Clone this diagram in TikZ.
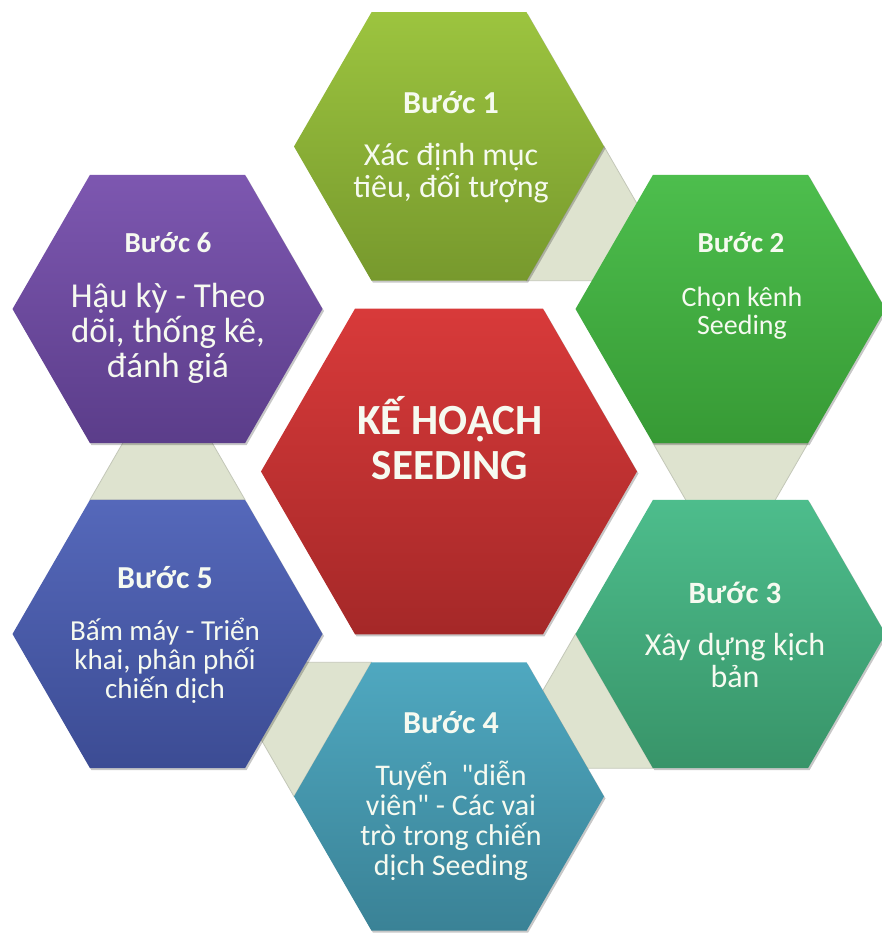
\documentclass[tikz,border=0pt]{standalone}
\usepackage{fontspec}
\setmainfont{Carlito}[Ligatures=TeXOff]
\usetikzlibrary{shapes.geometric,calc,shadows}
\definecolor{c1t}{HTML}{9CC43F}\definecolor{c1b}{HTML}{77992D}
\definecolor{c2t}{HTML}{4DBE4D}\definecolor{c2b}{HTML}{379A35}
\definecolor{c3t}{HTML}{4DBD8C}\definecolor{c3b}{HTML}{389469}
\definecolor{c4t}{HTML}{4FA8C0}\definecolor{c4b}{HTML}{3A8296}
\definecolor{c5t}{HTML}{5568BA}\definecolor{c5b}{HTML}{3C4C94}
\definecolor{c6t}{HTML}{7D57B0}\definecolor{c6b}{HTML}{5B3D8A}
\definecolor{c0t}{HTML}{D83A3A}\definecolor{c0b}{HTML}{A52828}
\definecolor{connfill}{HTML}{DEE3CF}
\definecolor{connline}{HTML}{C3C7B8}
\definecolor{txt}{HTML}{F6FAF0}
\begin{document}
\begin{tikzpicture}[x=1pt,y=1pt,
  hexa/.style={regular polygon, regular polygon sides=6, minimum size=310pt,
    inner sep=0pt, outer sep=0pt, draw=none,
    drop shadow={shadow xshift=1.5pt, shadow yshift=-2pt, opacity=0.22, fill=black}},
  bighexa/.style={hexa, minimum size=376pt},
  conn/.style={fill=connfill, draw=connline, line width=0.8pt, line join=miter},
  head/.style={text=txt, inner sep=0pt, font=\fontsize{#1}{#1}\selectfont\bfseries},
  body/.style={text=txt, inner sep=0pt, align=center, font=\fontsize{#1}{#1}\selectfont},
]
\useasboundingbox (0,0) rectangle (881,933);
\fill[white] (0,0) rectangle (881,933);

% hexagon centres
\coordinate (p0) at (449,461.5);
\coordinate (p1) at (449,786.5);
\coordinate (p2) at (730.5,624);
\coordinate (p3) at (730.5,299);
\coordinate (p4) at (449,136.5);
\coordinate (p5) at (167.5,299);
\coordinate (p6) at (167.5,624);

% connectors (behind)
\fill[conn] ($(p1)+(0:155)$) -- ($(p1)+(-60:155)$) -- ($(p1)+(0:155)+(-60:155)$) -- cycle;
\fill[conn] ($(p2)+(-60:155)$) -- ($(p2)+(-120:155)$) -- ($(p2)+(-60:155)+(-120:155)$) -- cycle;
\fill[conn] ($(p3)+(-120:155)$) -- ($(p3)+(180:155)$) -- ($(p3)+(-120:155)+(180:155)$) -- cycle;
\fill[conn] ($(p4)+(120:155)$) -- ($(p4)+(180:155)$) -- ($(p4)+(120:155)+(180:155)$) -- cycle;
\fill[conn] ($(p5)+(60:155)$) -- ($(p5)+(120:155)$) -- ($(p5)+(60:155)+(120:155)$) -- cycle;

\node[hexa, top color=c1t, bottom color=c1b] (h1) at (p1) {};
\node[hexa, top color=c2t, bottom color=c2b] (h2) at (p2) {};
\node[hexa, top color=c3t, bottom color=c3b] (h3) at (p3) {};
\node[hexa, top color=c4t, bottom color=c4b] (h4) at (p4) {};
\node[hexa, top color=c5t, bottom color=c5b] (h5) at (p5) {};
\node[hexa, top color=c6t, bottom color=c6b] (h6) at (p6) {};
\node[bighexa, top color=c0t, bottom color=c0b] (h0) at (p0) {};

% texts
\node[text=txt, align=center, font=\fontsize{43}{45}\selectfont\bfseries] (t0) at (450,495) {KẾ HOẠCH\\SEEDING};

\node[head=32] (t1h) at (451,830) {Bước 1};
\node[body=32] (t1b) at (451,759.5) {Xác định mục\\tiêu, đối tượng};

\node[head=29] (t2h) at (741,690) {Bước 2};
\node[body=28] (t2b) at (742,620) {Chọn kênh\\Seeding};

\node[head=31] (t3h) at (735,340) {Bước 3};
\node[body=32] (t3b) at (735,272) {Xây dựng kịch\\bản};

\node[head=32] (t4h) at (451,210) {Bước 4};
\node[body=30] (t4b) at (451,112) {Tuyển \ "diễn\\viên" - Các vai\\trò trong chiến\\dịch Seeding};

\node[head=32] (t5h) at (165,355) {Bước 5};
\node[body=29] (t5b) at (165,272) {Bấm máy - Triển\\khai, phân phối\\chiến dịch};

\node[head=29] (t6h) at (168,690) {Bước 6};
\node[body=35] (t6b) at (168,600) {Hậu kỳ - Theo\\dõi, thống kê,\\đánh giá};
\end{tikzpicture}
\end{document}
